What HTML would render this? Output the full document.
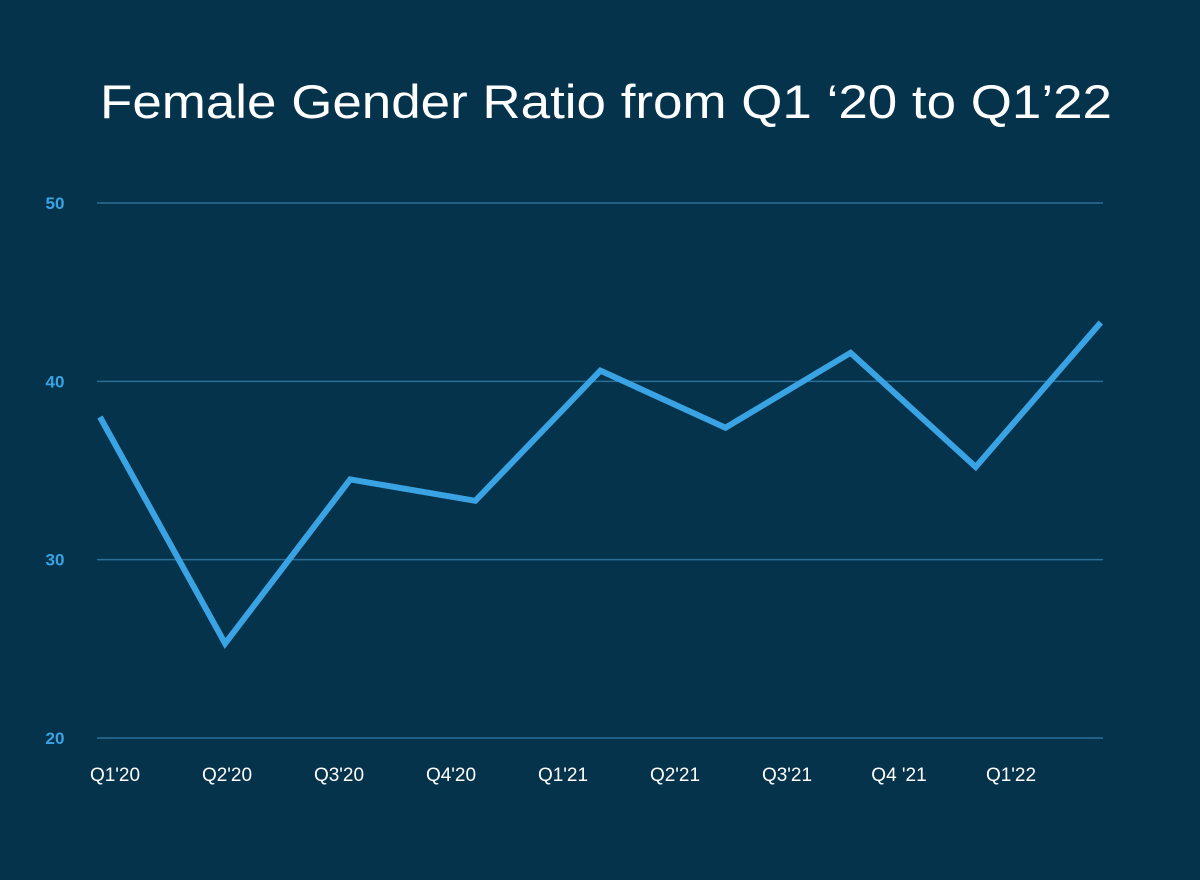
<!DOCTYPE html>
<html><head><meta charset="utf-8"><style>
html,body{margin:0;padding:0;background:#05334c;}
svg{display:block}
</style></head><body>
<svg width="1200" height="880" xmlns="http://www.w3.org/2000/svg">
<rect width="1200" height="880" fill="#05334c"/>
<text x="100" y="118" textLength="1012" lengthAdjust="spacingAndGlyphs" font-family="Liberation Sans, sans-serif" font-size="47" fill="#ffffff">Female Gender Ratio from Q1 ‘20 to Q1’22</text>
<g id="grid"></g><g id="yt"></g><g id="xt"></g><g id="ln"></g>
</svg>
<script>
const categories=["Q1'20","Q2'20","Q3'20","Q4'20","Q1'21","Q2'21","Q3'21","Q4 '21","Q1'22"];
const values=[38.0,25.3,34.5,33.3,40.6,37.4,41.6,35.2,43.3];
const yTicks=[20,30,40,50];
const NS="http://www.w3.org/2000/svg";
const y=v=>738-(v-20)*(738-203)/30;
const px=i=>100+i*125.1;
const lx=i=>115+i*112;
function mk(t,a,p){const e=document.createElementNS(NS,t);for(const k in a)e.setAttribute(k,a[k]);document.getElementById(p).appendChild(e);return e;}
yTicks.forEach(t=>{
 const g=mk('line',{x1:97,x2:1103,y1:y(t),y2:y(t),stroke:'#2b6f97','stroke-width':1.5},'grid');
 
 
 const l=mk('text',{x:55,y:y(t)+6,'text-anchor':'middle','font-family':'Liberation Sans, sans-serif','font-size':17,'font-weight':'bold',fill:'#3aa3e3'},'yt');
 l.textContent=t;
 
 
});
categories.forEach((c,i)=>{
 const l=mk('text',{x:lx(i),y:781,'text-anchor':'middle','font-family':'Liberation Sans, sans-serif','font-size':19,fill:'#ffffff'},'xt');
 l.textContent=c;
 
 
});
const p=mk('polyline',{points:values.map((v,i)=>px(i)+','+y(v)).join(' '),fill:'none',stroke:'#3aa3e3','stroke-width':6,'stroke-linejoin':'miter'},'ln');


</script>
</body></html>
